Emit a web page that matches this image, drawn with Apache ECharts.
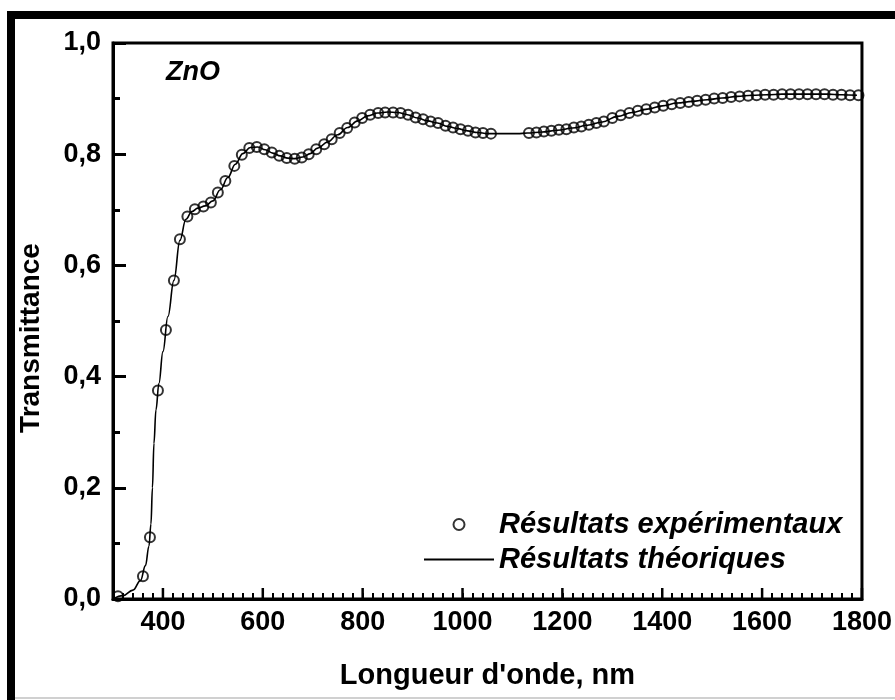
<!DOCTYPE html>
<html>
<head>
<meta charset="utf-8">
<script src="https://cdn.jsdelivr.net/npm/echarts@6/dist/echarts.min.js"></script>
<style>
  html, body { margin: 0; padding: 0; background: #fff; }
  #chart { width: 895px; height: 700px; }
</style>
</head>
<body>
<div id="chart"></div>
<script>
// mesures (cercles)
const expWavelength = [
  310, 360, 374, 390, 406, 422, 434, 449, 464, 481, 496, 510, 525, 543, 558, 573, 588, 603, 618, 633,
  648, 664, 678, 692, 707, 723, 738, 754, 769, 784, 799, 815, 831, 845, 861, 876, 891, 906, 921, 936,
  951, 966, 981, 996, 1011, 1026, 1041, 1057,
  1133, 1148, 1163, 1178, 1193, 1208, 1223, 1238, 1253, 1268, 1283, 1300, 1317, 1334, 1351, 1368, 1385,
  1402, 1419, 1436, 1453, 1470, 1487, 1504, 1521, 1538, 1555, 1572, 1589, 1606, 1623, 1640, 1657, 1674,
  1691, 1708, 1725, 1742, 1759, 1776, 1793
]
const expTransmittance = [
  0.005, 0.041, 0.111, 0.375, 0.484, 0.573, 0.647, 0.688, 0.701, 0.706, 0.713, 0.731, 0.752, 0.779, 0.799, 0.811, 0.813, 0.809, 0.803, 0.797,
  0.793, 0.792, 0.794, 0.800, 0.809, 0.818, 0.827, 0.838, 0.847, 0.857, 0.865, 0.871, 0.874, 0.875, 0.875, 0.874, 0.871, 0.866, 0.863, 0.859,
  0.856, 0.851, 0.848, 0.845, 0.842, 0.839, 0.838, 0.837,
  0.838, 0.839, 0.841, 0.842, 0.844, 0.845, 0.848, 0.850, 0.853, 0.856, 0.859, 0.865, 0.870, 0.874, 0.878, 0.881, 0.884,
  0.887, 0.890, 0.892, 0.894, 0.896, 0.898, 0.900, 0.901, 0.903, 0.904, 0.905, 0.906, 0.907, 0.907, 0.908, 0.908, 0.908,
  0.908, 0.908, 0.908, 0.907, 0.907, 0.906, 0.906
]
// courbe theorique
const theoWavelength = [
  300, 320, 340, 355, 365, 372, 376, 379, 382, 386, 392, 400, 410, 422, 434, 446, 458, 470, 485, 500,
  515, 530, 545, 560, 575, 590, 605, 620, 635, 650, 665, 680, 695, 710, 730, 750, 770, 790, 810, 830,
  850, 870, 890, 910, 930, 950, 970, 990, 1010, 1030, 1050, 1070, 1090, 1110, 1130, 1160, 1190, 1220,
  1250, 1280, 1310, 1340, 1370, 1400, 1430, 1460, 1490, 1520, 1550, 1580, 1610, 1640, 1670, 1700, 1730,
  1760, 1790
]
const theoTransmittance = [
  0.000, 0.006, 0.016, 0.033, 0.060, 0.095, 0.135, 0.200, 0.280, 0.340, 0.388, 0.445, 0.508, 0.573, 0.645, 0.683, 0.697, 0.703, 0.707, 0.716,
  0.736, 0.758, 0.782, 0.801, 0.812, 0.813, 0.808, 0.802, 0.797, 0.793, 0.792, 0.795, 0.801, 0.811, 0.822, 0.835, 0.848, 0.860, 0.869, 0.874,
  0.876, 0.875, 0.871, 0.865, 0.860, 0.856, 0.850, 0.846, 0.842, 0.839, 0.837, 0.837, 0.837, 0.837, 0.838, 0.840, 0.843, 0.847,
  0.852, 0.858, 0.868, 0.875, 0.881, 0.887, 0.892, 0.895, 0.898, 0.901, 0.904, 0.906, 0.907, 0.908, 0.908, 0.908, 0.908,
  0.907, 0.906
]
const xTickValues = [400, 600, 800, 1000, 1200, 1400, 1600, 1800]

const font = "'Liberation Sans', Arial, sans-serif"
const chart = echarts.init(document.getElementById('chart'))

const baseGraphics = [
  { type: 'rect', shape: { x: 7, y: 11, width: 888, height: 8 }, style: { fill: '#000' } },
  { type: 'rect', shape: { x: 7, y: 11, width: 8, height: 689 }, style: { fill: '#000' } },
  { type: 'rect', shape: { x: 15, y: 697, width: 880, height: 2 }, style: { fill: '#d0d0d0' } },
  {
    type: 'text', x: 31, y: 338, rotation: Math.PI / 2,
    style: { text: 'Transmittance', font: 'bold 28px ' + font, fill: '#000', align: 'center', verticalAlign: 'middle' }
  },
  {
    type: 'text', x: 166, y: 59,
    style: { text: 'ZnO', font: 'italic bold 27px ' + font, fill: '#000', align: 'left', verticalAlign: 'top' }
  }
]

chart.setOption({
  backgroundColor: '#fff',
  animation: false,
  grid: { left: 113, right: 33, top: 43, bottom: 101, show: true, borderColor: '#000', borderWidth: 3 },
  legend: {
    orient: 'vertical',
    left: 418,
    top: 505,
    itemWidth: 70,
    itemHeight: 11,
    itemGap: 6,
    textStyle: { fontFamily: font, fontSize: 29, fontStyle: 'italic', fontWeight: 'bold', color: '#000' },
    data: [
      { name: 'Résultats expérimentaux', icon: 'circle', itemStyle: { color: 'rgba(0,0,0,0)', borderColor: '#000', borderWidth: 2 } },
      { name: 'Résultats théoriques', itemStyle: { color: 'rgba(0,0,0,0)', borderColor: 'rgba(0,0,0,0)', borderWidth: 0 } }
    ]
  },
  xAxis: {
    type: 'value',
    min: 300,
    max: 1800,
    interval: 20,
    name: "Longueur d'onde, nm",
    nameLocation: 'middle',
    nameGap: 62,
    nameTextStyle: { fontFamily: font, fontSize: 29, fontWeight: 'bold', color: '#000' },
    axisLine: { show: true, onZero: false, lineStyle: { color: '#000', width: 3 } },
    // petites graduations tous les 20 nm
    axisTick: { show: true, inside: true, length: 6, lineStyle: { color: '#000', width: 2 } },
    axisLabel: {
      show: true,
      margin: 10,
      customValues: xTickValues,
      fontFamily: font, fontSize: 27, fontWeight: 'bold', color: '#000',
      formatter: v => String(v)
    },
    splitLine: { show: false }
  },
  yAxis: {
    type: 'value',
    min: 0,
    max: 1,
    interval: 0.2,
    axisLine: { show: true, onZero: false, lineStyle: { color: '#000', width: 3 } },
    axisTick: { show: true, inside: true, length: 13, lineStyle: { color: '#000', width: 3 } },
    minorTick: { show: true, splitNumber: 2, length: 7, lineStyle: { color: '#000', width: 3 } },
    axisLabel: {
      margin: 12,
      fontFamily: font, fontSize: 27, fontWeight: 'bold', color: '#000',
      formatter: v => v.toFixed(1).replace('.', ',')
    },
    splitLine: { show: false }
  },
  series: [{
    name: 'Résultats expérimentaux',
    type: 'scatter',
    symbol: 'circle',
    symbolSize: 10,
    itemStyle: { color: 'rgba(0,0,0,0)', borderColor: '#000', borderWidth: 2 },
    z: 3,
    data: expWavelength.map((w, i) => [w, expTransmittance[i]])
  }, {
    name: 'Résultats théoriques',
    type: 'line',
    symbol: 'none',
    smooth: 0.4,
    smoothMonotone: 'x',
    lineStyle: { color: '#000', width: 1.6 },
    itemStyle: { color: '#000' },
    z: 2,
    data: theoWavelength.map((w, i) => [w, theoTransmittance[i]])
  }],
  graphic: baseGraphics
})

// grandes graduations (200 nm), placees par l'echelle des axes
const axisY = chart.convertToPixel({ yAxisIndex: 0 }, 0)
const majorTicks = xTickValues.map(v => {
  const px = chart.convertToPixel({ xAxisIndex: 0 }, v)
  return {
    type: 'line',
    shape: { x1: px, y1: axisY, x2: px, y2: axisY - 11 },
    style: { stroke: '#000', lineWidth: 2.5 }
  }
})
chart.setOption({ graphic: baseGraphics.concat(majorTicks) })
</script>
</body>
</html>
